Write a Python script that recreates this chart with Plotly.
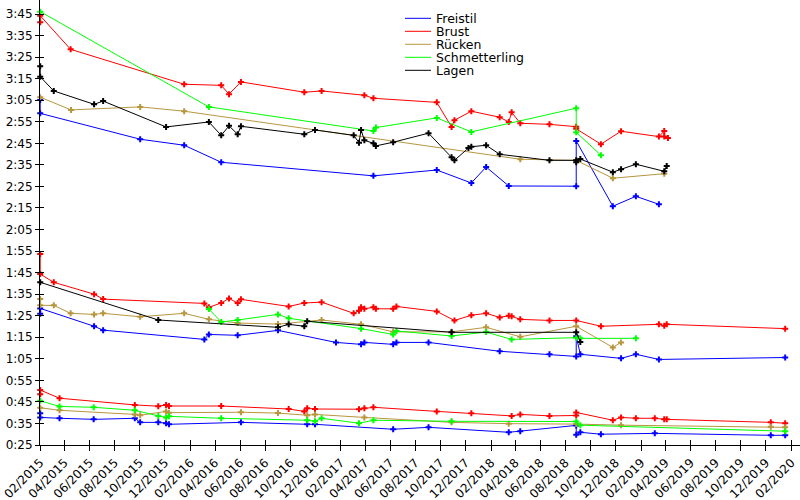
import plotly.graph_objects as go

# ---------------- series ----------------
series_names = ["Freistil", "Brust", "Rücken", "Schmetterling", "Lagen"]
series_colors = ["#0000ff", "#ff0000", "#b8963e", "#00ff00", "#000000"]

# ---- Freistil (times in seconds) ----
freistil_50_dates = ["2015-02-01", "2015-02-01", "2015-03-20", "2015-06-11", "2015-09-19", "2015-10-02",
                     "2015-11-15", "2015-12-04", "2015-12-11", "2016-06-03", "2016-11-11", "2016-11-30",
                     "2017-06-08", "2017-09-02", "2018-03-16", "2018-04-13", "2018-08-27", "2018-08-27",
                     "2018-09-06", "2018-10-26", "2019-03-06", "2019-12-13", "2020-01-17"]
freistil_50_secs = [39.7, 37.8, 37.4, 36.9, 37.4, 35.5, 35.5, 35.1, 34.6, 35.5, 34.6, 34.6,
                    32.3, 33.2, 30.9, 31.4, 34.1, 29.8, 30.9, 30.0, 30.4, 29.5, 29.5]

freistil_100_dates = ["2015-02-01", "2015-02-01", "2015-06-12", "2015-07-04", "2016-03-06", "2016-03-17",
                      "2016-05-26", "2016-09-01", "2017-01-20", "2017-03-22", "2017-03-30", "2017-06-08",
                      "2017-06-16", "2017-09-02", "2018-02-22", "2018-06-23", "2018-08-27", "2018-08-27",
                      "2018-09-06", "2018-12-14", "2019-01-19", "2019-03-16", "2020-01-17"]
freistil_100_secs = [85.9, 88.4, 80.1, 78.3, 74.0, 76.3, 75.9, 78.2, 72.6, 71.7, 72.6, 71.7,
                     72.6, 72.6, 68.5, 67.1, 66.1, 75.5, 67.1, 65.2, 67.1, 64.7, 65.6]

freistil_200_dates = ["2015-02-01", "2015-02-01", "2015-10-02", "2016-01-17", "2016-04-16", "2017-04-21",
                      "2017-09-22", "2017-12-15", "2018-01-20", "2018-03-16", "2018-08-27", "2018-08-27",
                      "2018-11-24", "2019-01-19", "2019-03-16"]
freistil_200_secs = [185.1, 178.9, 166.9, 164.1, 156.2, 149.9, 152.6, 146.6, 154.0, 145.2, 145.1, 166.1,
                     135.8, 140.4, 136.7]

# ---- Brust ----
brust_50_dates = ["2015-02-01", "2015-02-01", "2015-03-20", "2015-09-19", "2015-11-15", "2015-12-04",
                  "2015-12-11", "2016-04-16", "2016-09-27", "2016-11-04", "2016-11-11", "2016-11-30",
                  "2017-03-17", "2017-03-30", "2017-04-21", "2017-09-22", "2017-12-15", "2018-03-23",
                  "2018-04-13", "2018-06-23", "2018-08-27", "2018-08-27", "2018-11-24", "2018-12-14",
                  "2019-01-19", "2019-03-06", "2019-03-29", "2019-04-04", "2019-12-13", "2020-01-17"]
brust_50_secs = [48.5, 50.5, 46.7, 43.6, 43.0, 43.6, 43.1, 43.1, 41.7, 40.6, 42.0, 41.7,
                 41.6, 42.0, 42.5, 40.6, 39.7, 38.5, 39.2, 38.5, 38.7, 40.1, 36.5, 37.8,
                 37.4, 37.4, 36.9, 36.9, 35.5, 35.1]

brust_100_dates = ["2015-02-01", "2015-02-01", "2015-03-06", "2015-06-12", "2015-07-04", "2016-03-06",
                   "2016-03-17", "2016-04-16", "2016-05-05", "2016-05-26", "2016-06-03", "2016-09-27",
                   "2016-11-04", "2016-12-16", "2017-03-04", "2017-03-17", "2017-03-22", "2017-03-30",
                   "2017-04-21", "2017-04-27", "2017-06-08", "2017-06-16", "2017-09-22", "2017-11-04",
                   "2017-12-15", "2018-01-20", "2018-02-22", "2018-03-16", "2018-03-23", "2018-04-13",
                   "2018-06-23", "2018-08-27", "2018-10-26", "2019-03-16", "2019-03-29", "2019-04-04",
                   "2020-01-17"]
brust_100_secs = [113.6, 104.3, 100.5, 95.0, 92.7, 90.7, 88.9, 90.9, 93.0, 90.9, 92.6, 89.3,
                  90.9, 91.3, 86.1, 87.3, 88.9, 88.2, 88.9, 88.2, 88.2, 89.3, 87.0, 82.8,
                  85.2, 86.1, 84.2, 85.0, 84.7, 83.3, 82.8, 82.8, 80.1, 81.0, 80.3, 81.0,
                  79.0]

brust_200_dates = ["2015-02-01", "2015-02-01", "2015-04-16", "2016-01-17", "2016-04-16", "2016-05-05",
                   "2016-06-03", "2016-11-04", "2016-12-16", "2017-03-30", "2017-04-21", "2017-09-22",
                   "2017-10-28", "2017-11-04", "2017-12-15", "2018-02-22", "2018-03-16", "2018-03-23",
                   "2018-04-13", "2018-06-23", "2018-08-27", "2018-08-27", "2018-10-26", "2018-12-14",
                   "2019-03-16", "2019-03-29", "2019-03-29", "2019-04-07"]
brust_200_secs = [221.2, 224.2, 208.6, 192.4, 191.9, 187.8, 193.5, 188.7, 189.3, 187.3, 185.9, 184.0,
                  172.6, 175.7, 179.9, 177.1, 174.9, 179.4, 174.3, 173.8, 172.7, 171.7, 164.6, 170.6,
                  168.1, 170.7, 168.1, 167.5]

# ---- Rücken ----
ruecken_50_dates = ["2015-02-01", "2015-03-20", "2015-09-19", "2015-10-02", "2015-12-04", "2015-12-11",
                    "2016-06-03", "2016-09-01", "2016-11-11", "2016-11-30", "2017-03-30", "2017-10-28",
                    "2018-03-16", "2018-08-27", "2018-12-14", "2019-12-13", "2020-01-17"]
ruecken_50_secs = [42.3, 41.1, 39.2, 38.8, 40.6, 40.0, 40.2, 39.8, 38.8, 39.2, 37.8, 35.5,
                   34.9, 34.7, 34.2, 33.5, 33.2]

ruecken_100_dates = ["2015-02-01", "2015-02-01", "2015-03-06", "2015-04-16", "2015-06-12", "2015-07-04",
                     "2015-10-02", "2016-01-17", "2016-03-17", "2016-05-26", "2016-09-01", "2016-12-16",
                     "2017-03-22", "2017-06-08", "2017-10-28", "2018-01-20", "2018-04-13", "2018-08-27",
                     "2018-11-24", "2018-12-14"]
ruecken_100_secs = [92.7, 89.8, 89.8, 86.1, 85.6, 86.1, 84.5, 86.1, 83.3, 81.6, 81.1, 83.0,
                    81.0, 77.5, 77.5, 79.6, 75.2, 80.1, 70.3, 72.6]

ruecken_200_dates = ["2015-02-01", "2015-04-17", "2015-10-02", "2016-01-17", "2018-04-13", "2018-08-27",
                     "2018-11-24", "2019-03-29"]
ruecken_200_secs = [186.4, 180.5, 181.9, 179.9, 157.6, 157.1, 148.8, 150.9]

# ---- Schmetterling ----
schm_50_dates = ["2015-02-01", "2015-03-20", "2015-06-11", "2015-09-19", "2015-11-15", "2015-12-04",
                 "2015-12-11", "2016-04-16", "2016-11-11", "2016-11-30", "2016-12-16", "2017-03-17",
                 "2017-04-21", "2017-10-28", "2018-08-27", "2018-09-06", "2020-01-17"]
schm_50_secs = [45.5, 42.9, 42.5, 41.1, 38.5, 37.8, 38.3, 37.4, 36.5, 36.0, 37.4, 35.1,
                36.5, 36.0, 35.9, 34.2, 31.4]

schm_100_dates = ["2016-03-17", "2016-04-16", "2016-05-26", "2016-09-01", "2016-09-27", "2017-03-22",
                  "2017-06-08", "2017-06-16", "2017-10-28", "2018-01-20", "2018-03-23", "2018-08-27",
                  "2018-09-06", "2019-01-19"]
schm_100_secs = [88.1, 82.1, 83.0, 85.6, 83.8, 79.0, 76.3, 77.9, 75.6, 77.4, 74.0, 74.8,
                 74.5, 74.5]

schm_200_dates = ["2015-02-01", "2016-03-17", "2017-04-21", "2017-04-27", "2017-09-22", "2017-12-15",
                  "2018-08-27", "2018-08-27", "2018-10-26"]
schm_200_secs = [226.1, 181.9, 170.7, 172.3, 176.8, 170.3, 181.3, 170.1, 159.5]

# ---- Lagen ----
lagen_100_dates = ["2015-02-01", "2015-11-15", "2016-09-01", "2016-09-27", "2016-11-04", "2016-11-11",
                   "2017-10-28", "2018-08-27", "2018-09-06"]
lagen_100_secs = [100.5, 83.0, 79.6, 81.0, 80.1, 82.4, 77.3, 77.3, 72.8]

lagen_200_dates = ["2015-02-01", "2015-02-01", "2015-03-06", "2015-06-12", "2015-07-04", "2015-12-04",
                   "2016-03-17", "2016-04-16", "2016-05-05", "2016-05-26", "2016-06-03", "2016-11-04",
                   "2016-11-30", "2017-03-04", "2017-03-17", "2017-03-22", "2017-03-30", "2017-04-21",
                   "2017-04-27", "2017-06-08", "2017-09-02", "2017-10-28", "2017-11-04", "2017-12-08",
                   "2017-12-15", "2018-01-20", "2018-02-22", "2018-06-23", "2018-08-27", "2018-08-27",
                   "2018-09-06", "2018-11-24", "2018-12-14", "2019-01-19", "2019-03-29", "2019-04-04"]
lagen_200_secs = [200.7, 195.9, 189.3, 183.1, 184.6, 172.6, 174.9, 168.7, 173.1, 169.2, 172.9, 169.2,
                  171.2, 168.7, 165.3, 171.2, 166.4, 165.0, 163.8, 165.5, 169.7, 158.5, 157.1, 162.8,
                  163.4, 164.1, 159.9, 157.1, 157.1, 156.2, 157.7, 151.6, 153.0, 155.3, 152.0, 154.5]

# ---------------- axes ----------------
y_tick_secs = list(range(25, 226, 10))
y_tick_labels = [f"{s // 60}:{s % 60:02d}" for s in y_tick_secs]
y_range = [25, 231.5]
x_range = ["2015-01-31 12:00", "2020-02-22"]

series_data = {
    "Freistil": [(freistil_50_dates, freistil_50_secs), (freistil_100_dates, freistil_100_secs),
                 (freistil_200_dates, freistil_200_secs)],
    "Brust": [(brust_50_dates, brust_50_secs), (brust_100_dates, brust_100_secs),
              (brust_200_dates, brust_200_secs)],
    "Rücken": [(ruecken_50_dates, ruecken_50_secs), (ruecken_100_dates, ruecken_100_secs),
               (ruecken_200_dates, ruecken_200_secs)],
    "Schmetterling": [(schm_50_dates, schm_50_secs), (schm_100_dates, schm_100_secs),
                      (schm_200_dates, schm_200_secs)],
    "Lagen": [(lagen_100_dates, lagen_100_secs), (lagen_200_dates, lagen_200_secs)],
}

FONT = "DejaVu Sans"
fig = go.Figure()

for name, color in zip(series_names, series_colors):
    for dates, secs in series_data[name]:
        fig.add_trace(go.Scatter(
            x=dates, y=secs, mode="lines+markers", name=name, showlegend=False,
            line=dict(color=color, width=1),
            marker=dict(symbol="cross", size=5, color=color, line=dict(width=0)),
            cliponaxis=False, hoverinfo="skip",
        ))

# dummy trace for inner half of the ticks
fig.add_trace(go.Scatter(x=[], y=[], xaxis="x2", yaxis="y2", showlegend=False))

axis_font = dict(family=FONT, size=12, color="#000")
fig.update_layout(
    width=800, height=500,
    margin=dict(l=40, r=0, t=0, b=55),
    paper_bgcolor="white", plot_bgcolor="white",
    font=dict(family=FONT, size=12, color="#000"),
    xaxis=dict(type="date", range=x_range, tick0="2015-02-01", dtick="M2", tickformat="%m/%Y",
               tickangle=-45, ticks="outside", ticklen=5, tickwidth=1, tickcolor="#000",
               showline=True, linecolor="#000", linewidth=1, showgrid=False, zeroline=False,
               tickfont=axis_font, ticklabeloverflow="allow", automargin=False),
    yaxis=dict(range=y_range, tickvals=y_tick_secs, ticktext=y_tick_labels,
               ticks="outside", ticklen=4, tickwidth=1, tickcolor="#000",
               showline=True, linecolor="#000", linewidth=1, showgrid=False, zeroline=False,
               tickfont=axis_font, ticklabeloverflow="allow", automargin=False),
    xaxis2=dict(type="date", range=x_range, tick0="2015-02-01", dtick="M2", overlaying="x",
                anchor="y2", ticks="inside", ticklen=5, tickwidth=1, tickcolor="#000",
                showticklabels=False, showline=False, showgrid=False, zeroline=False),
    yaxis2=dict(range=y_range, tickvals=y_tick_secs, overlaying="y", anchor="x2", side="left",
                ticks="inside", ticklen=4, tickwidth=1, tickcolor="#000",
                showticklabels=False, showline=False, showgrid=False, zeroline=False),
)

# legend drawn as text + sample lines (compact gnuplot-style key)
plot_w, plot_h = 760.0, 445.0
for i, (name, color) in enumerate(zip(series_names, series_colors)):
    yp = 1 - (18.3 + 13 * i) / plot_h
    fig.add_shape(type="line", xref="paper", yref="paper",
                  x0=(405 - 40) / plot_w, x1=(431 - 40) / plot_w, y0=yp, y1=yp,
                  line=dict(color=color, width=1))
    fig.add_annotation(xref="paper", yref="paper", x=(434.5 - 40) / plot_w, y=yp,
                       xanchor="left", yanchor="middle", text=name, showarrow=False,
                       borderpad=0, font=dict(family=FONT, size=12.5, color="#000"))

fig.write_html("out.html", config={"displayModeBar": False},
               post_script=["document.body.style.margin='0px';"])
